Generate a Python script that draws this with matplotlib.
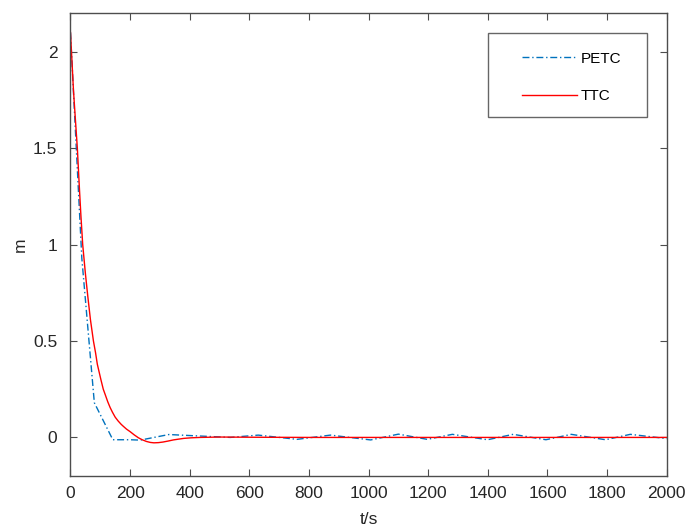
import matplotlib
matplotlib.use('Agg')
import matplotlib.pyplot as plt
from matplotlib.patches import Rectangle

plt.rcParams['font.family'] = ['Liberation Sans', 'DejaVu Sans']

# 数据
t_ttc = [0, 5, 10, 16, 23, 30, 35, 41, 50, 58, 67, 77, 84, 90, 96, 102, 110,
         117, 125, 133, 141, 150, 160, 170, 177, 188, 200, 214, 228, 242, 255,
         268, 280, 295, 310, 327, 345, 362, 380, 405, 435, 500, 600, 800,
         1000, 1200, 1400, 1600, 1800, 2000]
m_ttc = [2.1, 1.95, 1.8, 1.66, 1.5, 1.29, 1.15, 1.0, 0.85, 0.733, 0.61, 0.5,
         0.44, 0.38, 0.34, 0.3, 0.25, 0.22, 0.185, 0.155, 0.13, 0.105, 0.085,
         0.068, 0.058, 0.043, 0.03, 0.013, -0.002, -0.013, -0.021, -0.026,
         -0.028, -0.027, -0.024, -0.019, -0.013, -0.009, -0.005, -0.002, 0.0,
         0.002, 0.001, 0.0, 0.0, 0.0, 0.0, 0.0, 0.0, 0.0]

t_petc = [0, 38, 80, 142, 200, 234, 280, 330, 424, 536, 630, 760, 872, 1007,
          1100, 1197, 1281, 1399, 1485, 1595, 1680, 1795, 1878, 2000]
m_petc = [2.1, 0.93, 0.18, -0.012, -0.012, -0.014, 0.0, 0.015, 0.008, 0.0,
          0.012, -0.01, 0.012, -0.013, 0.017, -0.01, 0.016, -0.012, 0.016,
          -0.012, 0.016, -0.012, 0.016, -0.006]

x_ticks = list(range(0, 2001, 200))
y_ticks = [0, 0.5, 1, 1.5, 2]
y_labels = ['0', '0.5', '1', '1.5', '2']

fig = plt.figure(figsize=(6.89, 5.32), dpi=100)
ax = fig.add_axes([0.1023, 0.1053, 0.8653, 0.8697])

ax.plot(t_petc, m_petc, color='#0072BD', lw=1.0, dashes=(5, 2, 1, 2), label='PETC')
ax.plot(t_ttc, m_ttc, color='#ff0000', lw=1.0, label='TTC')

ax.set_xlim(0, 2000)
ax.set_ylim(-0.2, 2.2)
ax.set_xticks(x_ticks)
ax.set_yticks(y_ticks)
ax.set_yticklabels(y_labels)

axis_col = '#4d4d4d'
for s in ax.spines.values():
    s.set_color(axis_col)
    s.set_linewidth(1.0)
ax.tick_params(direction='in', top=True, right=True, length=5, width=0.8,
               colors=axis_col, labelcolor='#262626', labelsize=12.5)
ax.tick_params(axis='x', pad=7)
ax.tick_params(axis='y', pad=9.5)

ax.set_xlabel('t/s', fontsize=12.5, color='#262626', labelpad=8)
ax.set_ylabel('m', fontsize=12.5, color='#262626', labelpad=4)

# 图例
leg = ax.legend(loc='upper left', bbox_to_anchor=(514 / 689, (532 - 44) / 532),
                bbox_transform=fig.transFigure, frameon=False, fontsize=11,
                handlelength=3.6, handletextpad=0.25, labelspacing=1.55,
                borderpad=0)
for txt in leg.get_texts():
    txt.set_color('#000000')
box = Rectangle((488 / 689, (532 - 117.3) / 532), 158.7 / 689, 84.6 / 532,
                transform=fig.transFigure, fill=False, edgecolor='#666666',
                lw=1.0, zorder=5)
fig.patches.append(box)

fig.savefig('out.png', dpi=100)
